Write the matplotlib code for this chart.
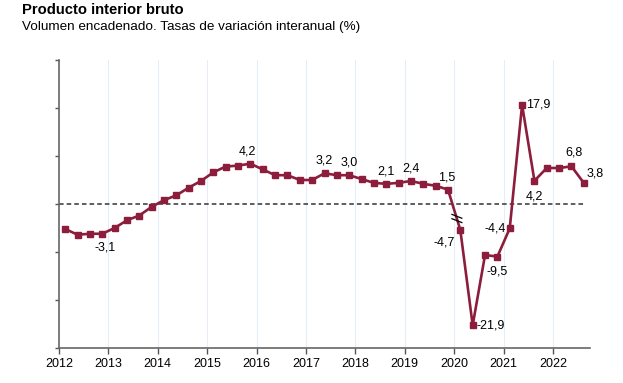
import numpy as np
import matplotlib
matplotlib.use("Agg")
import matplotlib.pyplot as plt

plt.rcParams['font.family'] = ['Liberation Sans', 'DejaVu Sans']

# ---------------- data (quarterly, 2012Q1 .. 2022Q3)
start_year = 2012
values = [-2.6, -3.2, -3.1, -3.1,
          -2.5, -1.7, -1.2, -0.3,
          0.4, 0.9, 1.7, 2.4,
          3.3, 3.9, 4.0, 4.2,
          3.6, 3.0, 3.0, 2.5,
          2.5, 3.2, 3.0, 3.0,
          2.6, 2.2, 2.1, 2.2,
          2.4, 2.1, 1.9, 1.5,
          -4.7, -21.9, -9.2, -9.5,
          -4.4, 17.9, 4.2, 6.5,
          6.5, 6.8, 3.8]
years = list(range(2012, 2023))
labelled = [3, 15, 21, 23, 26, 28, 31, 32, 33, 35, 36, 37, 38, 41, 42]

# axis break: from 2020 on the scale is compressed
break_idx = 32
break_factor = 0.577

# label placement (offset in points, horizontal alignment)
label_pos = {3: (2, -10, 'center'), 15: (-2, 9, 'center'), 21: (0, 9, 'center'),
             23: (0, 9, 'center'), 26: (0, 9, 'center'), 28: (0, 9, 'center'),
             31: (-1, 9, 'center'), 32: (-4, -9, 'right'), 33: (3, 0, 'left'),
             35: (0, -11, 'center'), 36: (-3, 0, 'right'), 37: (3, 0, 'left'),
             38: (0, -11, 'center'), 41: (2, 10, 'center'), 42: (2, 7, 'left')}

x = start_year + 0.125 + 0.25 * np.arange(len(values))
v = np.array(values)
y = np.where(np.arange(len(v)) >= break_idx, v * break_factor, v)

red = '#8c1d3c'
fig = plt.figure(figsize=(6.23, 3.83), dpi=100)
ax = fig.add_axes([59 / 623, 35 / 383, 531 / 623, 288 / 383])

for yr in years[1:]:
    ax.axvline(yr, color='#e6edf7', lw=0.8, zorder=0)

ax.plot([2012, 2022.64], [0, 0], color='#333333', lw=1.1, ls=(0, (3, 2)), zorder=1)

ax.plot(x, y, color=red, lw=1.9, marker='s', ms=5, zorder=3)

# break marker on the 2019Q4-2020Q1 segment
t = 0.72
bx = x[break_idx - 1] + t * (x[break_idx] - x[break_idx - 1])
by = y[break_idx - 1] + t * (y[break_idx] - y[break_idx - 1])
for d in (0.25, -0.2):
    ax.plot([bx - 0.1, bx + 0.1], [by + d + 0.2, by + d - 0.2], color='black', lw=0.9, zorder=4)

for i in labelled:
    dx, dy, ha = label_pos[i]
    ax.annotate(f"{values[i]:.1f}".replace('.', ','), (x[i], y[i]), xytext=(dx, dy),
                textcoords='offset points', ha=ha, va='center', fontsize=9, color='black')

ax.set_xlim(2012, 2022.75)
ax.set_ylim(-15, 15)
ax.set_xticks(years)
ax.set_xticklabels([str(yy) for yy in years], fontsize=9)
ax.set_yticks(np.arange(-15, 16, 5))
ax.set_yticklabels([])
ax.tick_params(axis='x', length=4, width=1, color='#555555', pad=3)
ax.tick_params(axis='y', length=3, width=1, color='#555555')
for s in ('top', 'right'):
    ax.spines[s].set_visible(False)
for s in ('left', 'bottom'):
    ax.spines[s].set_color('#666666')
    ax.spines[s].set_linewidth(1.2)

fig.text(22 / 623, 1 - 10 / 383, 'Producto interior bruto', fontsize=10.6, fontweight='bold', va='center')
fig.text(22 / 623, 1 - 27 / 383, 'Volumen encadenado. Tasas de variación interanual (%)', fontsize=9.7, va='center')

fig.savefig('out.png', dpi=100)
